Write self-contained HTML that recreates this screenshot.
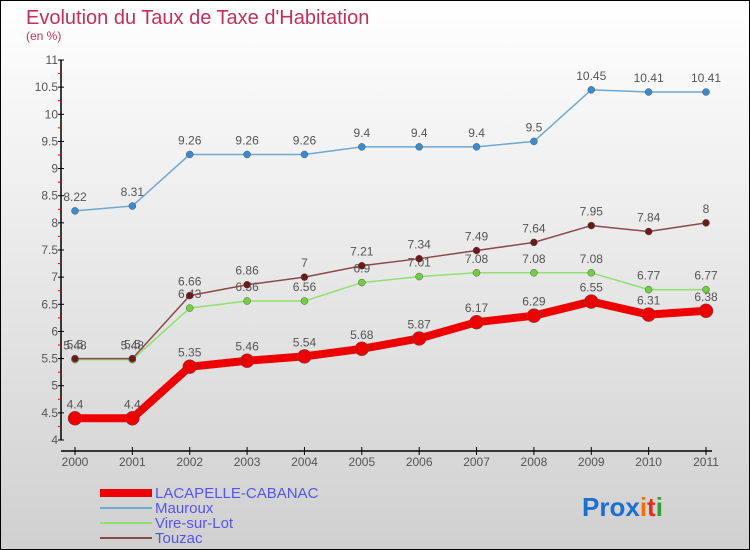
<!DOCTYPE html>
<html><head><meta charset="utf-8"><style>
body{margin:0}
#c{width:750px;height:550px;position:relative;background:linear-gradient(#ffffff,#d0d0d0);box-sizing:border-box;border:1px solid #000;font-family:"Liberation Sans",sans-serif;overflow:hidden}
</style></head><body>
<div id="c">
<svg id="s" width="750" height="550" style="position:absolute;left:-1px;top:-1px">
<text x="26" y="24" font-size="20" fill="#c0305a">Evolution du Taux de Taxe d'Habitation</text>
<text x="26" y="40" font-size="12" fill="#c0305a">(en %)</text>
<g id="ax"></g><g id="series"></g>
<g font-size="15" fill="#5555ee">
<rect x="100" y="489" width="52" height="8" fill="#e00"/>
<text x="155" y="498">LACAPELLE-CABANAC</text>
<line x1="100" y1="508" x2="152" y2="508" stroke="#6fa8d0" stroke-width="2"/>
<text x="155" y="513">Mauroux</text>
<line x1="100" y1="523" x2="152" y2="523" stroke="#90e070" stroke-width="2"/>
<text x="155" y="528">Vire-sur-Lot</text>
<line x1="100" y1="538" x2="152" y2="538" stroke="#8b4a4a" stroke-width="2"/>
<text x="155" y="543">Touzac</text>
</g>
<text x="582" y="516" font-size="26" font-weight="bold"><tspan fill="#1a6fd0">Pro</tspan><tspan fill="#1a6fd0">x</tspan><tspan fill="#f07000">i</tspan><tspan fill="#e03020">t</tspan><tspan fill="#30a030">i</tspan></text>
</svg>
</div>
<script>
const years=["2000","2001","2002","2003","2004","2005","2006","2007","2008","2009","2010","2011"];
const yTicks=[4,4.5,5,5.5,6,6.5,7,7.5,8,8.5,9,9.5,10,10.5,11];
const lacapelle=[4.4,4.4,5.35,5.46,5.54,5.68,5.87,6.17,6.29,6.55,6.31,6.38];
const mauroux=[8.22,8.31,9.26,9.26,9.26,9.4,9.4,9.4,9.5,10.45,10.41,10.41];
const vire=[5.48,5.48,6.43,6.56,6.56,6.9,7.01,7.08,7.08,7.08,6.77,6.77];
const touzac=[5.5,5.5,6.66,6.86,7,7.21,7.34,7.49,7.64,7.95,7.84,8];
const NS="http://www.w3.org/2000/svg";
const X=i=>75+i*(706-75)/(years.length-1);
const Y=v=>440-(v-4)*(380/7);
function el(t,a,p){const e=document.createElementNS(NS,t);for(const k in a)e.setAttribute(k,a[k]);p.appendChild(e);return e;}
const ax=document.getElementById('ax');
const yl=el('line',{x1:61,y1:Y(11),x2:61,y2:Y(4),stroke:'#000','stroke-width':1.5},ax);


const xl=el('line',{x1:61,y1:451,x2:712,y2:451,stroke:'#000','stroke-width':1.5},ax);


yTicks.forEach(v=>{
 el('line',{x1:58,x2:64,y1:Y(v),y2:Y(v),stroke:'#000'},ax);
 if(v<11)el('line',{x1:58,x2:61,y1:Y(v+0.25),y2:Y(v+0.25),stroke:'#e00'},ax);
 const t=el('text',{x:58,y:Y(v)+4,'text-anchor':'end','font-size':12,fill:'#555'},ax);
 t.textContent=String(v);
 
 
});
years.forEach((y,i)=>{
 el('line',{x1:X(i),x2:X(i),y1:447,y2:455,stroke:'#000'},ax);
 const t=el('text',{x:X(i),y:466,'text-anchor':'middle','font-size':12,fill:'#555'},ax);
 t.textContent=y;
 
 
});
const sg=document.getElementById('series');
function draw(data,name,color,w,r,dot){
 const g=el('g',{},sg);
 
 
 const pts=data.map((v,i)=>X(i)+','+Y(v)).join(' ');
 el('polyline',{points:pts,fill:'none',stroke:color,'stroke-width':w,'stroke-linejoin':'round'},g);
 data.forEach((v,i)=>{
  const c=el('circle',{cx:X(i),cy:Y(v),r:r,fill:dot,stroke:'#555','stroke-width':0.5},g);
  
  
  const t=el('text',{x:X(i),y:Y(v)-10,'text-anchor':'middle','font-size':12,fill:'#555'},g);
  t.textContent=String(v);
  
  
 });
}
draw(mauroux,'mauroux','#6fa8d0',1.5,3.5,'#3a8ad0');
draw(vire,'vire-sur-lot','#90e070',1.5,3.5,'#70d040');
draw(touzac,'touzac','#8b4a4a',1.5,3.5,'#6b1a1a');
draw(lacapelle,'lacapelle-cabanac','#e00',8,7,'#e00');
</script>
</body></html>
